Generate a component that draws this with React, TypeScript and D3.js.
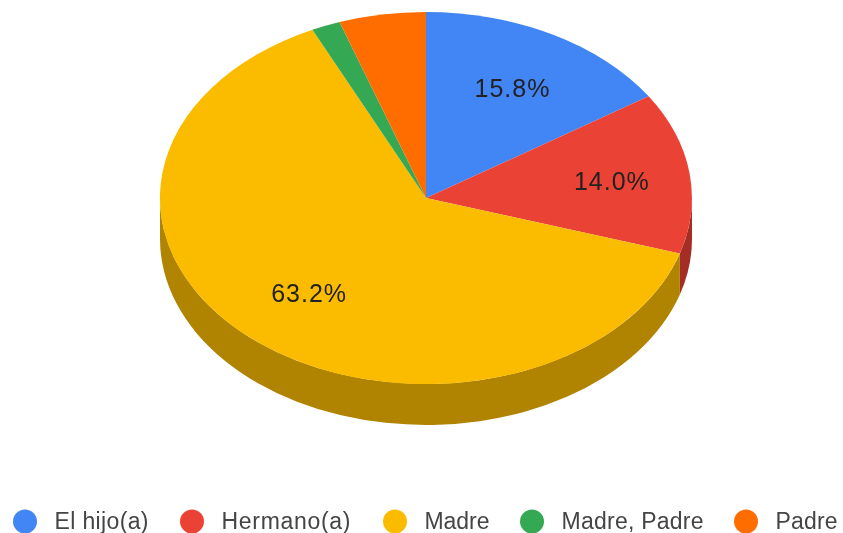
import React from "react";
import * as d3 from "d3";

const categories = ["El hijo(a)", "Hermano(a)", "Madre", "Madre, Padre", "Padre"];
const values = [9, 8, 36, 1, 3];
const colors = ["#4285f4", "#ea4335", "#fbbc04", "#34a853", "#ff6d01"];
const wallColors = ["#2e5dab", "#a42f25", "#b08403", "#24763a", "#b34c01"];
const labelled = ["15.8%", "14.0%", "63.2%", "", ""];

const width = 843;
const height = 533;
const cx = 426;
const cy = 198;
const rx = 266;
const ry = 186;
const depth = 41;

// circle centres of the legend and how wide each text runs in the reference
const legendX = [25, 192, 395, 532, 746];
const legendTextWidth = [94, 129, 65, 142, 62];
// the red slice's label sits further out than the other two
const labelNudgeX = [1, 8, 1, 0, 0];

const pie = d3.pie<number>().sort(null).value((d) => d);
const arcs = pie(values);

// drawn on a unit circle and squashed by the transform
const arc = d3.arc<d3.PieArcDatum<number>>().innerRadius(0).outerRadius(1);
const labelArc = d3
  .arc<d3.PieArcDatum<number>>()
  .innerRadius(0.675)
  .outerRadius(0.675);

function wallPath(start: number, end: number) {
  // only the front half of the rim can be seen
  const a = Math.max(start, Math.PI / 2);
  const b = Math.min(end, (3 * Math.PI) / 2);
  if (b <= a) return null;
  const off = depth / ry;
  const p = d3.path();
  p.arc(0, 0, 1, a - Math.PI / 2, b - Math.PI / 2);
  p.arc(0, off, 1, b - Math.PI / 2, a - Math.PI / 2, true);
  p.closePath();
  return p.toString();
}

const App: React.FC = () => {
  const transform = `translate(${cx},${cy}) scale(${rx},${ry})`;
  return (
    <svg
      width={width}
      height={height}
      style={{ position: "absolute", left: 0, top: 0 }}
      fontFamily="'Liberation Sans', Arial, sans-serif"
    >
      <defs>
        <filter id="soft" x="0" y="0" width="100%" height="100%">
          <feGaussianBlur stdDeviation="0.7" />
        </filter>
      </defs>
      <rect width={width} height={height} fill="#fff" />
      <g filter="url(#soft)">
        <g transform={transform}>
          {arcs.map((d, i) => {
            const w = wallPath(d.startAngle, d.endAngle);
            return w ? <path key={i} d={w} fill={wallColors[i]} /> : null;
          })}
          {arcs.map((d, i) => (
            <path key={i} d={arc(d) ?? ""} fill={colors[i]} />
          ))}
        </g>
        {arcs.map((d, i) => {
          if (!labelled[i]) return null;
          const [ux, uy] = labelArc.centroid(d);
          return (
            <text
              key={i}
              x={cx + ux * rx + labelNudgeX[i]}
              y={cy + uy * ry + 9}
              textAnchor="middle"
              fontSize={25}
              letterSpacing={1}
              fill="#222"
            >
              {labelled[i]}
            </text>
          );
        })}
        {categories.map((c, i) => (
          <g key={c}>
            <circle cx={legendX[i]} cy={521.5} r={12} fill={colors[i]} />
            <text
              x={legendX[i] + 29.5}
              y={529}
              fontSize={23}
              fill="#444"
              textLength={legendTextWidth[i]}
              lengthAdjust="spacing"
            >
              {c}
            </text>
          </g>
        ))}
      </g>
    </svg>
  );
};

export default App;
